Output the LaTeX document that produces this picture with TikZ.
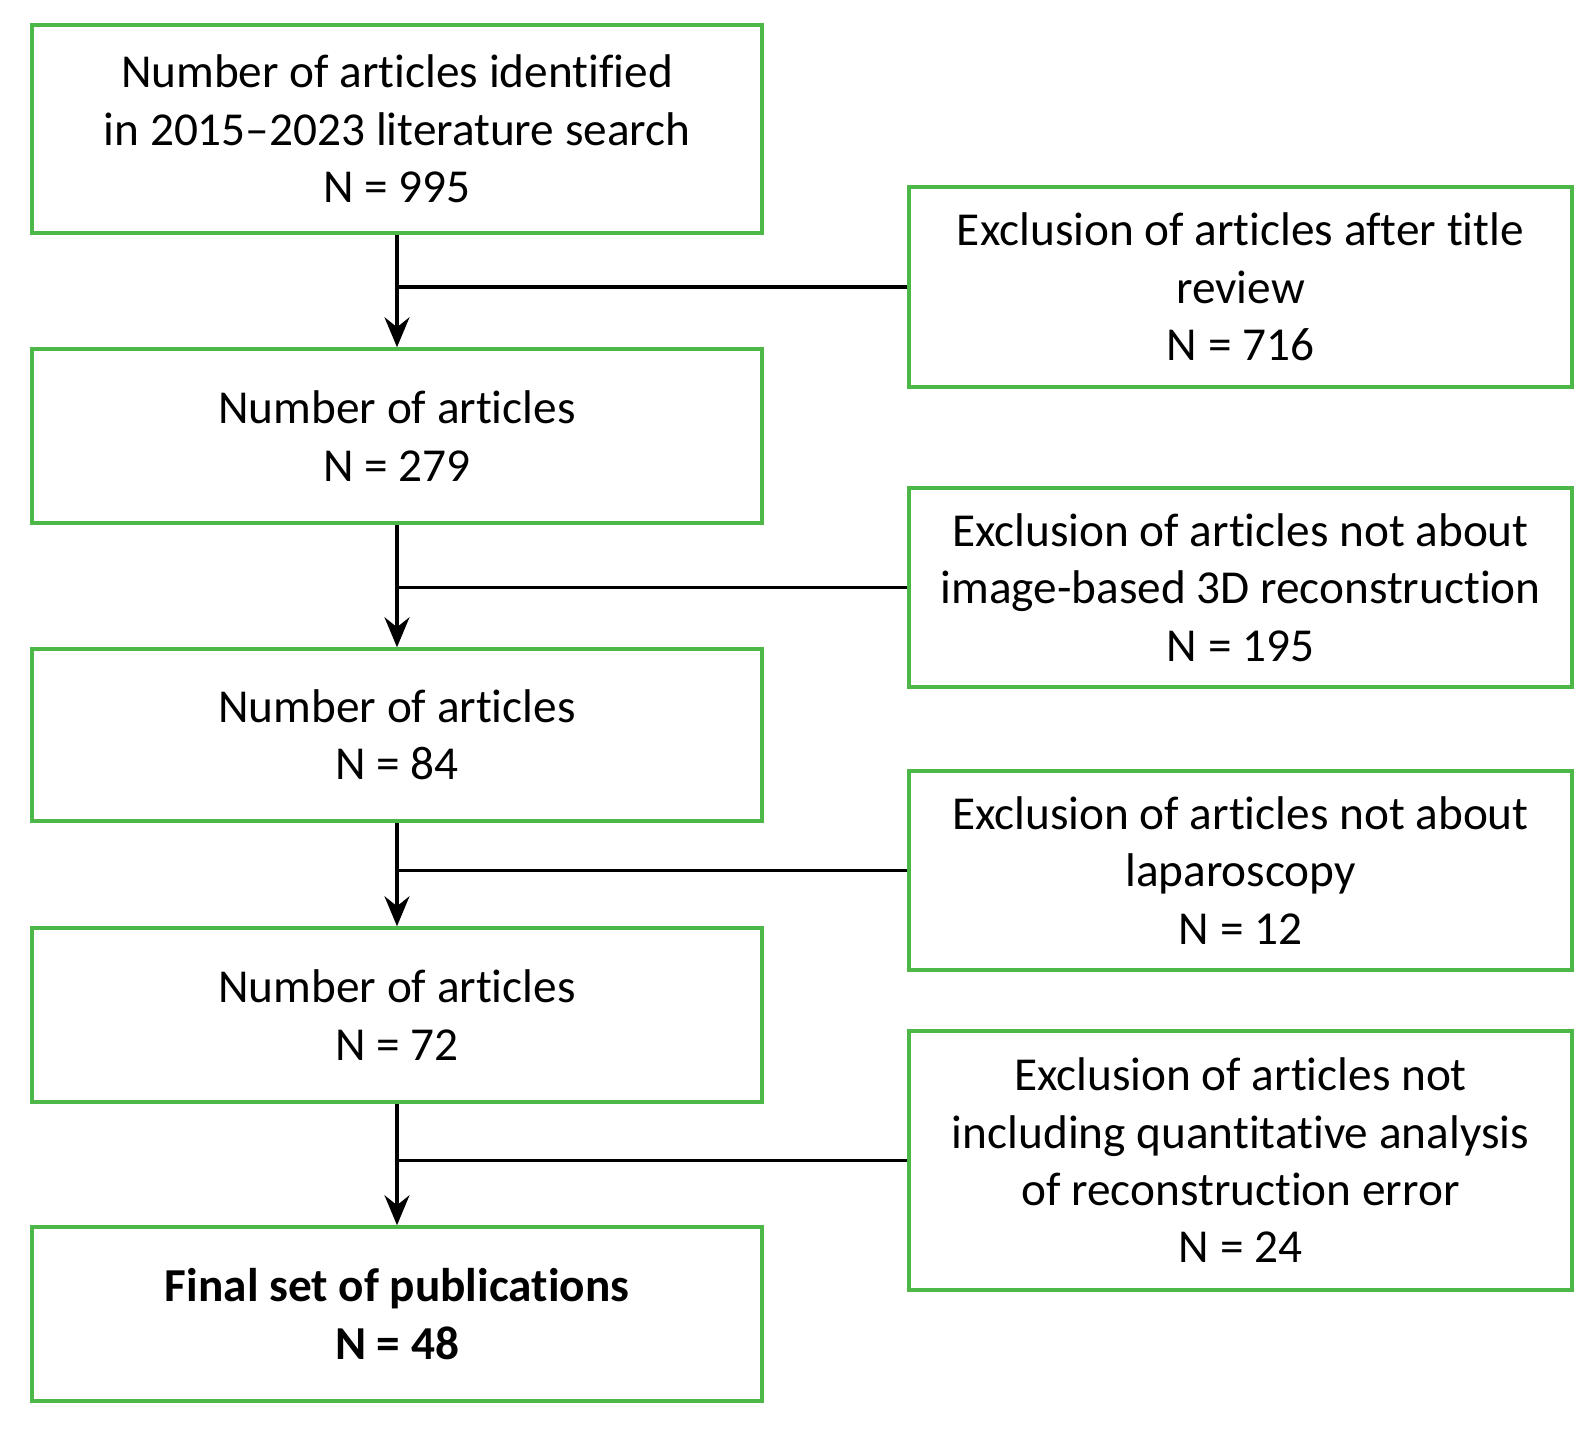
\documentclass[tikz,border=0pt]{standalone}
\usepackage{fontspec}
\setmainfont{Carlito}[Ligatures={NoCommon,NoRare,NoContextual}]
\usetikzlibrary{positioning, arrows.meta}
\definecolor{verde}{HTML}{4DB848}
\definecolor{tinta}{HTML}{000000}

\begin{document}
\begin{tikzpicture}[
				caja/.style={draw=verde, line width=1pt, minimum width=7.3cm, align=center, inner sep=0pt, font=\fontsize{13.45}{16.3}\selectfont},
				exclusion/.style={caja, minimum width=6.63cm},
				flecha/.style={draw=tinta, line width=0.95pt, -{Stealth[length=3mm, width=2.5mm, inset=1mm]}},
				rama/.style={draw=tinta, line width=0.95pt}]
				\useasboundingbox (0,0) rectangle (15.96,-14.32);
				\node[caja, minimum height=2.08cm] (n1) at (3.97,-1.29)  {Number of articles identified\\in 2015--2023 literature search\\N = 995};
				\node[caja, minimum height=1.74cm] (n2) at (3.97,-4.36)  {Number of articles\\N = 279};
				\node[caja, minimum height=1.72cm] (n3) at (3.97,-7.35)  {Number of articles\\N = 84};
				\node[caja, minimum height=1.74cm] (n4) at (3.97,-10.15) {Number of articles\\N = 72};
				\node[caja, minimum height=1.74cm, font=\fontsize{13.45}{16.3}\selectfont\bfseries] (n5) at (3.97,-13.14) {Final set of publications\\N = 48};
				\node[exclusion, minimum height=2.00cm] (e1) at (12.405,-2.87)  {Exclusion of articles after title\\review\\N = 716};
				\node[exclusion, minimum height=1.99cm] (e2) at (12.405,-5.875) {Exclusion of articles not about\\image-based 3D reconstruction\\N = 195};
				\node[exclusion, minimum height=1.99cm] (e3) at (12.405,-8.705) {Exclusion of articles not about\\laparoscopy\\N = 12};
				\node[exclusion, minimum height=2.59cm] (e4) at (12.405,-11.605) {Exclusion of articles not\\including quantitative analysis\\of reconstruction error\\N = 24};
				\draw[flecha] (n1) -- (n2);
				\draw[flecha] (n2) -- (n3);
				\draw[flecha] (n3) -- (n4);
				\draw[flecha] (n4) -- (n5);
				\draw[rama] (e1.west) -- (e1.west -| n1.south);
				\draw[rama] (e2.west) -- (e2.west -| n2.south);
				\draw[rama] (e3.west) -- (e3.west -| n3.south);
				\draw[rama] (e4.west) -- (e4.west -| n4.south);
			\end{tikzpicture}
\end{document}
